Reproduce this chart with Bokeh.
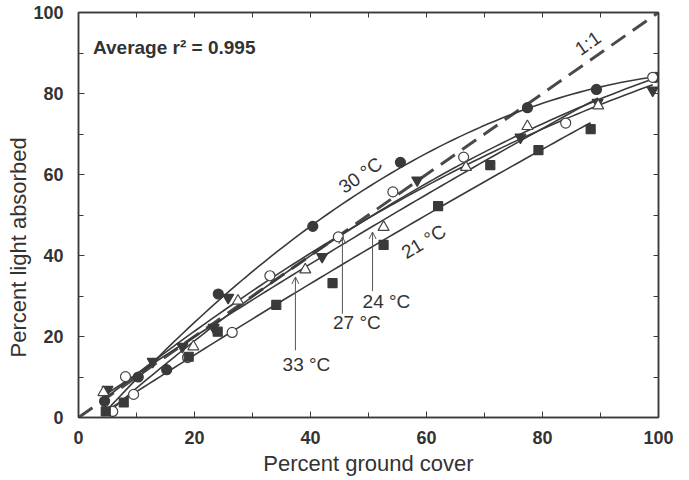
import numpy as np
from bokeh.plotting import figure
from bokeh.models import (LinearAxis, SingleIntervalTicker, Arrow, OpenHead, Label, Range1d,
                          CustomJSTickFormatter, Title)
from bokeh.embed import file_html
from bokeh.resources import INLINE

# ---------------- data ----------------
x30 = [4.5, 10.3, 15.2, 24.1, 40.4, 55.5, 77.4, 89.3, 99.5]
y30 = [4.0, 10.0, 11.8, 30.5, 47.2, 63.0, 76.5, 81.0, 84.0]

x33 = [5.0, 12.8, 17.9, 23.3, 25.8, 42.0, 58.4, 76.2, 89.5, 99.0]
y33 = [6.9, 13.8, 17.5, 22.2, 29.6, 39.7, 58.6, 69.2, 77.8, 80.8]

x27 = [5.9, 8.1, 9.5, 18.8, 26.5, 33.0, 44.8, 54.2, 66.4, 84.0, 99.0]
y27 = [1.5, 10.1, 5.7, 14.8, 21.0, 35.0, 44.6, 55.7, 64.3, 72.7, 84.0]

x24 = [4.3, 19.8, 27.5, 39.1, 52.6, 66.8, 77.4, 89.6]
y24 = [6.2, 17.5, 28.8, 36.5, 47.0, 61.8, 71.9, 77.0]

x21 = [4.7, 7.8, 19.0, 24.0, 34.1, 43.8, 52.6, 62.0, 71.0, 79.3, 88.3]
y21 = [1.5, 3.7, 15.0, 21.2, 27.8, 33.2, 42.6, 52.2, 62.3, 66.0, 71.2]

one_to_one = [0, 100]

x_title = "Percent ground cover"
y_title = "Percent light absorbed"

# labels: text, x, y, angle (deg)
curve_labels = [
    ("30 °C", 48.6, 59.8, 35),
    ("21 °C", 59.5, 43.4, 31),
    ("1:1", 87.8, 92.4, 35),
]
arrow_labels = [
    # text, label x, label y, arrow x, arrow y start, arrow y end
    ("33 °C", 39.3, 13.1, 37.4, 16.6, 34.7),
    ("27 °C", 48.0, 23.4, 45.5, 25.6, 44.6),
    ("24 °C", 53.1, 28.6, 50.7, 31.2, 45.8),
]

FONT = "Liberation Sans"
INK = "#3a3a3a"
TXT = "#333333"

p = figure(width=680, height=478, x_range=Range1d(0, 100), y_range=Range1d(0, 100),
           output_backend="svg", toolbar_location=None,
           min_border_left=78, min_border_right=22, min_border_top=12, min_border_bottom=60)
p.xgrid.visible = False
p.ygrid.visible = False
p.outline_line_color = INK
p.outline_line_width = 1.5
p.background_fill_color = "white"
p.border_fill_color = "white"

for ax in (p.xaxis[0], p.yaxis[0]):
    ax.ticker = SingleIntervalTicker(interval=20, num_minor_ticks=2)
    ax.major_tick_in = 6
    ax.major_tick_out = 0
    ax.minor_tick_in = 5
    ax.minor_tick_out = 0
    ax.axis_line_color = INK
    ax.axis_line_width = 1.5
    ax.major_tick_line_color = INK
    ax.minor_tick_line_color = INK
    ax.major_label_text_font = FONT
    ax.major_label_text_font_style = "bold"
    ax.major_label_text_font_size = "18px"
    ax.major_label_text_color = TXT
    ax.axis_label_text_font = FONT
    ax.axis_label_text_font_style = "normal"
    ax.axis_label_text_font_size = "22px"
    ax.axis_label_text_color = TXT

p.xaxis.axis_label = x_title
p.xaxis.major_label_standoff = 13
p.xaxis.axis_label_standoff = 4
p.yaxis.major_label_standoff = 15

# y title as a side title, placed lower than the frame centre like the reference
p.add_layout(Title(text=y_title, align="left", offset=60, standoff=0,
                   text_font=FONT, text_font_size="22px", text_font_style="normal",
                   text_color=TXT), "left")

# top and right tick-only axes
blank = CustomJSTickFormatter(code="return ''")
for loc in ("above", "right"):
    a = LinearAxis(ticker=SingleIntervalTicker(interval=10, num_minor_ticks=0),
                   formatter=blank, major_tick_in=5, major_tick_out=0,
                   major_label_standoff=0, axis_line_color=INK, axis_line_width=1.5,
                   major_tick_line_color=INK)
    p.add_layout(a, loc)

# 1:1 dashed line
p.line(one_to_one, one_to_one, line_color="#4a4a4a", line_width=3, line_dash="17 9")

series = [
    (x30, y30, "circle", 10, INK, INK),
    (x33, y33, "inverted_triangle", 11, INK, INK),
    (x27, y27, "circle", 10, "white", "#444444"),
    (x24, y24, "triangle", 11, "white", "#444444"),
    (x21, y21, "square", 9, INK, INK),
]

# fitted regression curves
for xs, ys, *_ in series:
    c = np.polyfit(xs, ys, 2)
    xf = np.linspace(min(xs), max(xs), 80)
    p.line(xf, np.polyval(c, xf), line_color=INK, line_width=1.6)

for xs, ys, mk, sz, fill, line in series:
    p.scatter(xs, ys, marker=mk, size=sz, fill_color=fill, line_color=line, line_width=1.2)

p.add_layout(Label(x=2.5, y=91.4, text="Average r² = 0.995", text_font=FONT,
                   text_font_style="bold", text_font_size="19px", text_color=TXT,
                   text_align="left", text_baseline="middle"))

for t, lx, ly, ang in curve_labels:
    p.add_layout(Label(x=lx, y=ly, text=t, angle=np.deg2rad(ang), text_font=FONT,
                       text_font_size="19px", text_color=TXT,
                       text_align="center", text_baseline="middle"))

for t, lx, ly, ax_, ys_, ye_ in arrow_labels:
    p.add_layout(Label(x=lx, y=ly, text=t, text_font=FONT, text_font_size="19px",
                       text_color=TXT, text_align="center", text_baseline="middle"))
    p.add_layout(Arrow(x_start=ax_, y_start=ys_, x_end=ax_, y_end=ye_,
                       line_color="#555555", line_width=1,
                       end=OpenHead(size=7, line_color="#555555", line_width=1)))

open("out.html", "w").write(file_html(p, INLINE))
